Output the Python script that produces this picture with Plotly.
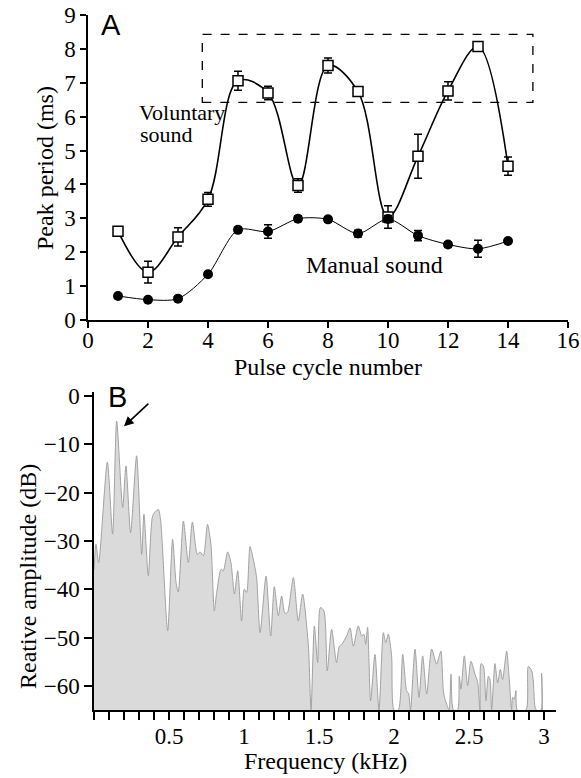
import plotly.graph_objects as go

W, H = 581, 778

# ---------------- Panel A data ----------------
pulse_cycle = [1, 2, 3, 4, 5, 6, 7, 8, 9, 10, 11, 12, 13, 14]
voluntary_ms = [2.62, 1.41, 2.45, 3.56, 7.06, 6.70, 3.97, 7.51, 6.74, 3.04, 4.83, 6.76, 8.07, 4.54]
voluntary_err = [0.05, 0.32, 0.27, 0.20, 0.28, 0.20, 0.20, 0.22, 0.10, 0.33, 0.65, 0.27, 0.10, 0.27]
manual_ms = [0.71, 0.60, 0.63, 1.35, 2.66, 2.61, 2.99, 2.97, 2.55, 2.98, 2.49, 2.23, 2.10, 2.33]
manual_err = [0.05, 0.05, 0.05, 0.06, 0.08, 0.20, 0.08, 0.08, 0.10, 0.10, 0.15, 0.08, 0.25, 0.06]
a_xticks = [0, 2, 4, 6, 8, 10, 12, 14, 16]
a_yticks = [0, 1, 2, 3, 4, 5, 6, 7, 8, 9]
box_x = [3.81, 14.83]
box_y = [6.42, 8.43]

# ---------------- Panel B data ----------------
freq_khz = [0.000, 0.013, 0.031, 0.089, 0.124, 0.151, 0.191, 0.213, 0.244, 0.284,
            0.318, 0.333, 0.362, 0.391, 0.413, 0.429, 0.444, 0.491, 0.524, 0.547,
            0.562, 0.596, 0.629, 0.656, 0.689, 0.707, 0.729, 0.757, 0.780, 0.802,
            0.818, 0.847, 0.862, 0.891, 0.913, 0.936, 0.958, 0.984, 1.002, 1.018,
            1.040, 1.062, 1.084, 1.107, 1.147, 1.178, 1.202, 1.229, 1.251, 1.273,
            1.290, 1.329, 1.362, 1.391, 1.429, 1.447, 1.469, 1.491, 1.509, 1.533,
            1.555, 1.584, 1.617, 1.635, 1.650, 1.684, 1.707, 1.729, 1.762, 1.785,
            1.800, 1.811, 1.824, 1.844, 1.873, 1.900, 1.929, 1.945, 1.962, 1.984,
            2.000, 2.029, 2.058, 2.084, 2.098, 2.110, 2.140, 2.167, 2.191, 2.218,
            2.251, 2.284, 2.300, 2.313, 2.329, 2.340, 2.351, 2.367, 2.380, 2.396,
            2.424, 2.435, 2.446, 2.469, 2.491, 2.513, 2.540, 2.558, 2.573, 2.580,
            2.596, 2.613, 2.629, 2.640, 2.651, 2.673, 2.691, 2.709, 2.724, 2.751,
            2.767, 2.784, 2.791, 2.802, 2.813, 2.822, 2.880, 2.895, 2.918, 2.929,
            2.947, 2.980, 2.984, 2.989]
amp_db = [-36.0, -30.7, -34.5, -13.7, -28.6, -5.2, -23.1, -14.5, -28.3, -12.4,
          -32.8, -24.5, -37.2, -24.8, -23.8, -23.5, -25.7, -48.6, -29.7, -38.6,
          -40.6, -25.9, -34.5, -26.1, -32.8, -32.3, -33.1, -26.6, -31.0, -44.5,
          -40.7, -35.9, -36.2, -32.3, -34.5, -41.0, -36.2, -46.6, -40.0, -40.7,
          -31.2, -33.8, -37.6, -49.0, -37.3, -49.7, -39.5, -45.5, -41.4, -45.0,
          -44.8, -37.6, -46.6, -41.0, -51.7, -65.0, -47.6, -55.2, -43.8, -44.5,
          -56.9, -48.3, -55.2, -51.8, -51.5, -49.7, -48.0, -51.8, -47.6, -49.7,
          -49.3, -51.4, -47.9, -63.1, -53.5, -65.0, -49.0, -51.1, -49.3, -53.8,
          -65.0, -65.0, -53.5, -61.0, -61.7, -65.0, -52.4, -62.4, -53.8, -61.7,
          -52.4, -55.5, -54.0, -52.8, -61.0, -62.8, -63.8, -65.0, -57.6, -65.0,
          -65.0, -58.0, -60.7, -53.8, -60.0, -54.9, -57.6, -59.3, -65.0, -55.4,
          -55.9, -63.1, -58.0, -58.7, -65.0, -55.4, -59.4, -56.6, -58.7, -52.8,
          -58.0, -65.0, -62.4, -62.8, -61.0, -65.0, -65.0, -56.0, -56.9, -59.2,
          -65.0, -65.0, -57.4, -65.0]
floor_db = -65.0
b_xticks = [0.5, 1, 1.5, 2, 2.5, 3]
b_xticklabels = ["0.5", "1", "1.5", "2", "2.5", "3"]
b_yticks = [0, -10, -20, -30, -40, -50, -60]
peak_arrow = dict(head=(0.200, -6.3), tail=(0.373, -1.3))

SERIF = "Liberation Serif"
SANS = "Liberation Sans"
TICKFONT = dict(family=SERIF, size=23, color="black")
TITLEFONT = dict(family=SERIF, size=24, color="black")
LABELFONT = dict(family=SERIF, size=22, color="black")

fig = go.Figure()

# Panel A traces
fig.add_trace(go.Scatter(
    x=pulse_cycle, y=voluntary_ms, mode="lines+markers",
    line=dict(color="black", width=1.6, shape="spline", smoothing=1.0),
    marker=dict(symbol="square", size=10, color="white", line=dict(color="black", width=1.5)),
    error_y=dict(type="data", array=voluntary_err, color="black", thickness=1.5, width=4),
    xaxis="x", yaxis="y", showlegend=False))
fig.add_trace(go.Scatter(
    x=pulse_cycle, y=manual_ms, mode="lines+markers",
    line=dict(color="black", width=1.0, shape="spline", smoothing=0.8),
    marker=dict(symbol="circle", size=10, color="black"),
    error_y=dict(type="data", array=manual_err, color="black", thickness=1.5, width=4),
    xaxis="x", yaxis="y", showlegend=False))

# Panel B traces
fig.add_trace(go.Scatter(
    x=[freq_khz[0], freq_khz[-1]], y=[floor_db, floor_db], mode="lines",
    line=dict(width=0, color="rgba(0,0,0,0)"), xaxis="x2", yaxis="y2",
    showlegend=False, hoverinfo="skip"))
fig.add_trace(go.Scatter(
    x=freq_khz, y=amp_db, mode="lines", fill="tonexty",
    fillcolor="#dadada",
    line=dict(color="#a2a2a2", width=1, shape="spline", smoothing=0.7),
    xaxis="x2", yaxis="y2", showlegend=False))

def px_x(p):
    return p / W

def px_y(p):
    return 1 - p / H

axis_common = dict(showgrid=False, zeroline=False, showline=True, linecolor="black",
                   linewidth=1.5, ticks="outside", tickcolor="black", tickwidth=1.5,
                   tickfont=TICKFONT, automargin=False)

fig.update_layout(
    template="none",
    width=W, height=H, margin=dict(l=0, r=0, t=0, b=0, autoexpand=False),
    paper_bgcolor="white", plot_bgcolor="white",
    font=dict(family=SERIF, color="black"),
    xaxis=dict(domain=[px_x(88), px_x(568)], range=[0, 16], tickvals=a_xticks,
               ticklen=6, anchor="y", ticklabelstandoff=-7, **axis_common),
    yaxis=dict(domain=[px_y(320), px_y(15)], range=[0, 9], tickvals=a_yticks,
               ticklen=6, anchor="x", **axis_common),
    xaxis2=dict(domain=[px_x(94), px_x(556)], range=[0, 3.08], tickvals=b_xticks,
                ticktext=b_xticklabels, ticklen=8, anchor="y2", ticklabelstandoff=-3,
                minor=dict(dtick=0.1, tick0=0, ticks="outside", ticklen=8,
                           tickwidth=1.5, tickcolor="black", showgrid=False),
                **axis_common),
    yaxis2=dict(domain=[px_y(710), px_y(392)], range=[-65, 0.8], tickvals=b_yticks,
                ticklen=8, anchor="x2", **axis_common),
)

# dashed box in panel A
fig.add_shape(type="rect", xref="x", yref="y", x0=box_x[0], x1=box_x[1],
              y0=box_y[0], y1=box_y[1], line=dict(color="black", width=1.3, dash="dash"))

def paper_text(text, cx, cy, font, angle=0):
    return dict(text=text, x=px_x(cx), y=px_y(cy), xref="paper", yref="paper",
                xanchor="center", yanchor="middle", textangle=angle,
                showarrow=False, font=font)

annotations = [
    dict(text="Voluntary", x=1.62, y=6.13, xref="x", yref="y", xanchor="left",
         yanchor="middle", showarrow=False, font=LABELFONT),
    dict(text="sound", x=1.68, y=5.48, xref="x", yref="y", xanchor="left",
         yanchor="middle", showarrow=False, font=LABELFONT),
    dict(text="Manual sound", x=7.2, y=1.61, xref="x", yref="y", xanchor="left",
         yanchor="middle", showarrow=False, font=TITLEFONT),
    paper_text("A", 111, 25, dict(family=SANS, size=29, color="black")),
    paper_text("B", 117, 397, dict(family=SANS, size=29, color="black")),
    paper_text("Peak period (ms)", 45, 168, TITLEFONT, -90),
    paper_text("Pulse cycle number", 328, 367, TITLEFONT),
    paper_text("Reative amplitude (dB)", 28, 577, TITLEFONT, -90),
    paper_text("Frequency (kHz)", 325, 761, TITLEFONT),
    dict(text="", x=peak_arrow["head"][0], y=peak_arrow["head"][1], xref="x2", yref="y2",
         ax=peak_arrow["tail"][0], ay=peak_arrow["tail"][1], axref="x2", ayref="y2",
         showarrow=True, arrowhead=2, arrowsize=1.2, arrowwidth=1.6, arrowcolor="black"),
]
fig.update_layout(annotations=annotations)

fig.write_html(
    "out.html",
    config={"responsive": False, "displayModeBar": False},
    post_script="document.body.style.margin='0';document.body.style.overflow='hidden';",
)
